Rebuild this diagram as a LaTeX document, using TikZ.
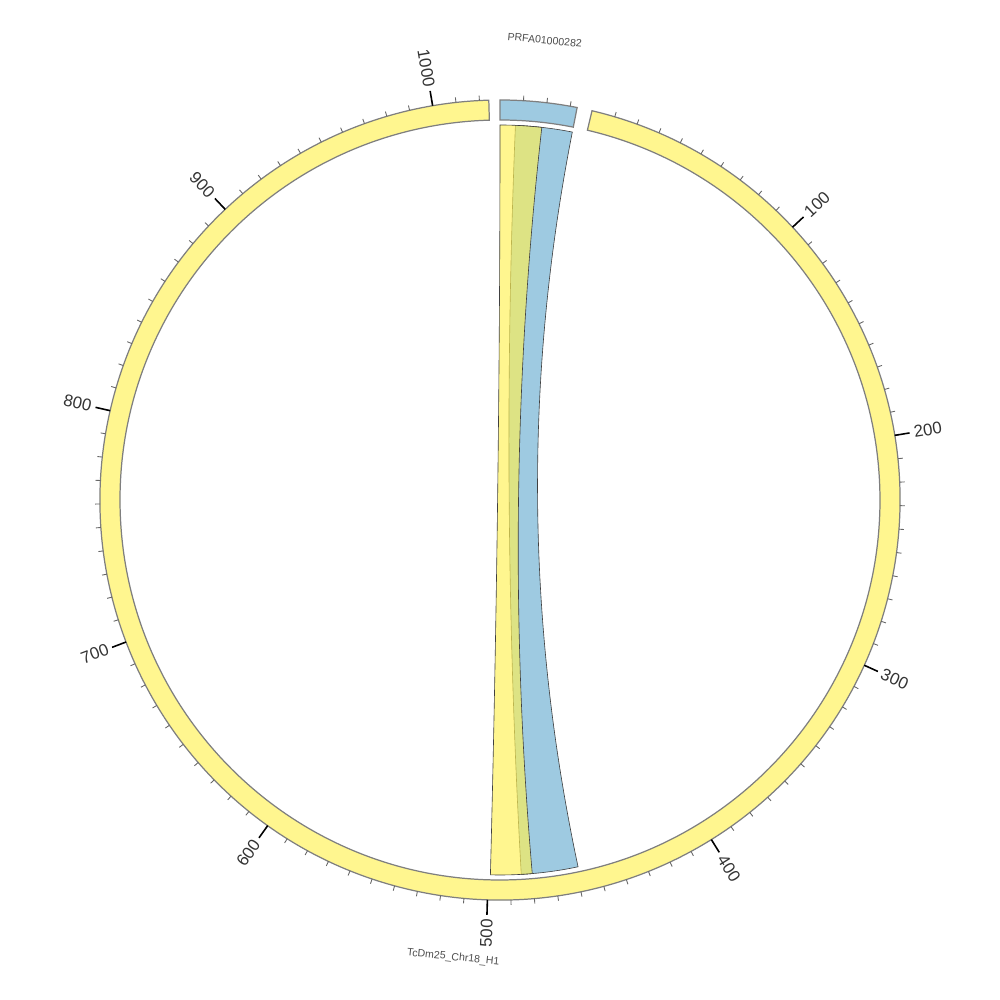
\documentclass[tikz,border=0pt]{standalone}
\usepackage{fontspec}
\setmainfont{Liberation Sans}
\usetikzlibrary{calc}
\definecolor{ideoyellow}{HTML}{FFF68F}
\definecolor{ideoblue}{HTML}{9ECAE1}
\definecolor{linkyellow}{HTML}{FFF155}
\definecolor{outline}{HTML}{7F7F7F}
\definecolor{tickgray}{HTML}{666666}

\begin{document}
\begin{tikzpicture}[
  x=0.2mm, y=0.2mm,
  ideo/.style={draw=outline, line width=0.7pt},
  ribbon/.style={draw=black!75, line width=0.35pt},
  minortick/.style={draw=tickgray, line width=0.5pt},
  majortick/.style={draw=black, line width=0.9pt},
  ticklab/.style={font=\fontsize{9.6}{11}\selectfont, text=black!80, inner sep=0pt},
  chrlab/.style={font=\fontsize{6}{7}\selectfont, text=black!70, inner sep=0pt}
]
  \useasboundingbox (-500,-500) rectangle (500,500);
  \pgfmathsetmacro{\degper}{0.337}   % degrees per unit
  \pgfmathsetmacro{\chrstart}{76.7}  % angle of position 0 on the chromosome
  \pgfmathsetmacro{\chrend}{\chrstart-1024*\degper}
  \pgfmathsetmacro{\scfend}{90-33*\degper}

  % Ideograms
  \draw[ideo, fill=ideoyellow] (\chrstart:400)
    arc[start angle=\chrstart, end angle=\chrend, radius=400] -- (\chrend:380)
    arc[start angle=\chrend, end angle=\chrstart, radius=380] -- cycle;
  \draw[ideo, fill=ideoblue] (90:400)
    arc[start angle=90, end angle=\scfend, radius=400] -- (\scfend:380)
    arc[start angle=\scfend, end angle=90, radius=380] -- cycle;

  % Ticks on the chromosome
  \foreach \p in {10,20,...,1020} {
    \pgfmathsetmacro{\a}{\chrstart-\p*\degper}
    \draw[minortick] (\a:400) -- (\a:405);
  }
  \foreach \p in {100,200,...,1000} {
    \pgfmathsetmacro{\a}{\chrstart-\p*\degper}
    \draw[majortick] (\a:400) -- (\a:415);
    \ifdim\a pt>-90pt
      \node[ticklab, rotate=\a, anchor=west] (lab\p) at (\a:419) {\p};
    \else
      \pgfmathsetmacro{\rot}{\a+180}
      \node[ticklab, rotate=\rot, anchor=east] (lab\p) at (\a:419) {\p};
    \fi
  }
  % Ticks on the scaffold
  \foreach \p in {10,20,30} {
    \pgfmathsetmacro{\a}{90-\p*\degper}
    \draw[minortick] (\a:400) -- (\a:405);
  }

  % Ideogram names
  \node[chrlab, rotate=-5.56] (scfname) at (84.44:462) {PRFA01000282};
  \node[chrlab, rotate=-5.84] (chrname) at (-95.84:460) {TcDm25\_Chr18\_H1};

  % Links: scaffold 7-33 -> chromosome 459-485, scaffold 0-19 -> chromosome 480-499
  \pgfmathsetmacro{\ba}{90-7*\degper}
  \pgfmathsetmacro{\bb}{90-33*\degper}
  \pgfmathsetmacro{\bc}{\chrstart-459*\degper}
  \pgfmathsetmacro{\bd}{\chrstart-485*\degper}
  \draw[ribbon, fill=ideoblue] (\ba:375)
    arc[start angle=\ba, end angle=\bb, radius=375]
    .. controls (\bb:125) and (\bc:125) .. (\bc:375)
    arc[start angle=\bc, end angle=\bd, radius=375]
    .. controls (\bd:125) and (\ba:125) .. (\ba:375) -- cycle;

  \pgfmathsetmacro{\ya}{90}
  \pgfmathsetmacro{\yb}{90-19*\degper}
  \pgfmathsetmacro{\yc}{\chrstart-480*\degper}
  \pgfmathsetmacro{\yd}{\chrstart-499*\degper}
  \draw[ribbon, fill=linkyellow, fill opacity=0.66] (\ya:375)
    arc[start angle=\ya, end angle=\yb, radius=375]
    .. controls (\yb:125) and (\yc:125) .. (\yc:375)
    arc[start angle=\yc, end angle=\yd, radius=375]
    .. controls (\yd:125) and (\ya:125) .. (\ya:375) -- cycle;
\end{tikzpicture}
\end{document}
